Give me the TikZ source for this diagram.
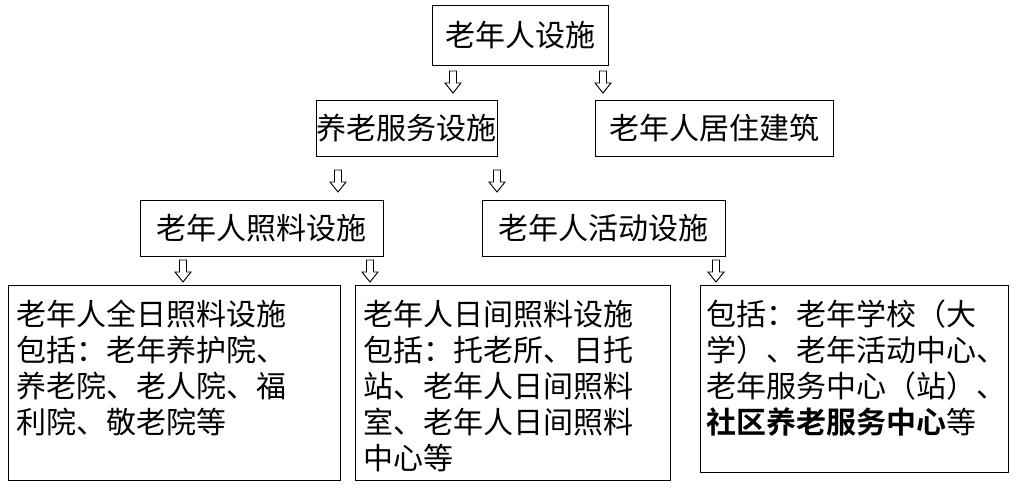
\documentclass[tikz,border=0pt]{standalone}
\usepackage{fontspec}
\newfontfamily\cjk{Noto Sans CJK SC}
\newfontfamily\cjkb{Noto Sans CJK SC Bold}
\begin{document}
\begin{tikzpicture}[x=1pt,y=-1pt,
  box/.style={draw,line width=1pt,font=\cjk\fontsize{30}{36}\selectfont,inner sep=0pt},
  txt/.style={anchor=north west,align=left,font=\cjk\fontsize{30}{36}\selectfont,inner sep=0pt},
  arr/.pic={\draw[line width=0.9pt,fill=white] (-3.5,-11) -- (3.5,-11) -- (3.5,1) -- (8,1) -- (0,11) -- (-8,1) -- (-3.5,1) -- cycle;}]
\useasboundingbox (0,0) rectangle (1017,488);
\node[box,minimum width=176pt,minimum height=60pt] (top) at (520,35) {老年人设施};
\node[box,minimum width=181pt,minimum height=56pt] (yl) at (406.5,128) {养老服务设施};
\node[box,minimum width=238pt,minimum height=56pt] (jz) at (714,128) {老年人居住建筑};
\node[box,minimum width=243pt,minimum height=56pt] (zl) at (261.5,228) {老年人照料设施};
\node[box,minimum width=243pt,minimum height=56pt] (hd) at (603.5,228) {老年人活动设施};
\draw[line width=1pt] (8,285) rectangle (340,480);
\draw[line width=1pt] (355,285) rectangle (670,480);
\draw[line width=1pt] (700,285) rectangle (1008,472);
\node[txt] (b1) at (16,300) {老年人全日照料设施\\包括：老年养护院、\\养老院、老人院、福\\利院、敬老院等};
\node[txt] (b2) at (363,300) {老年人日间照料设施\\包括：托老所、日托\\站、老年人日间照料\\室、老年人日间照料\\中心等};
\node[txt] (b3) at (706,300) {包括：老年学校（大\\学）、老年活动中心、\\老年服务中心（站）、\\{\cjkb 社区养老服务中心}等};
\pic at (453,82) {arr};
\pic at (603,82) {arr};
\pic at (338,181) {arr};
\pic at (497,181) {arr};
\pic at (183,271) {arr};
\pic at (370,271) {arr};
\pic at (716,271) {arr};
\end{tikzpicture}
\end{document}
